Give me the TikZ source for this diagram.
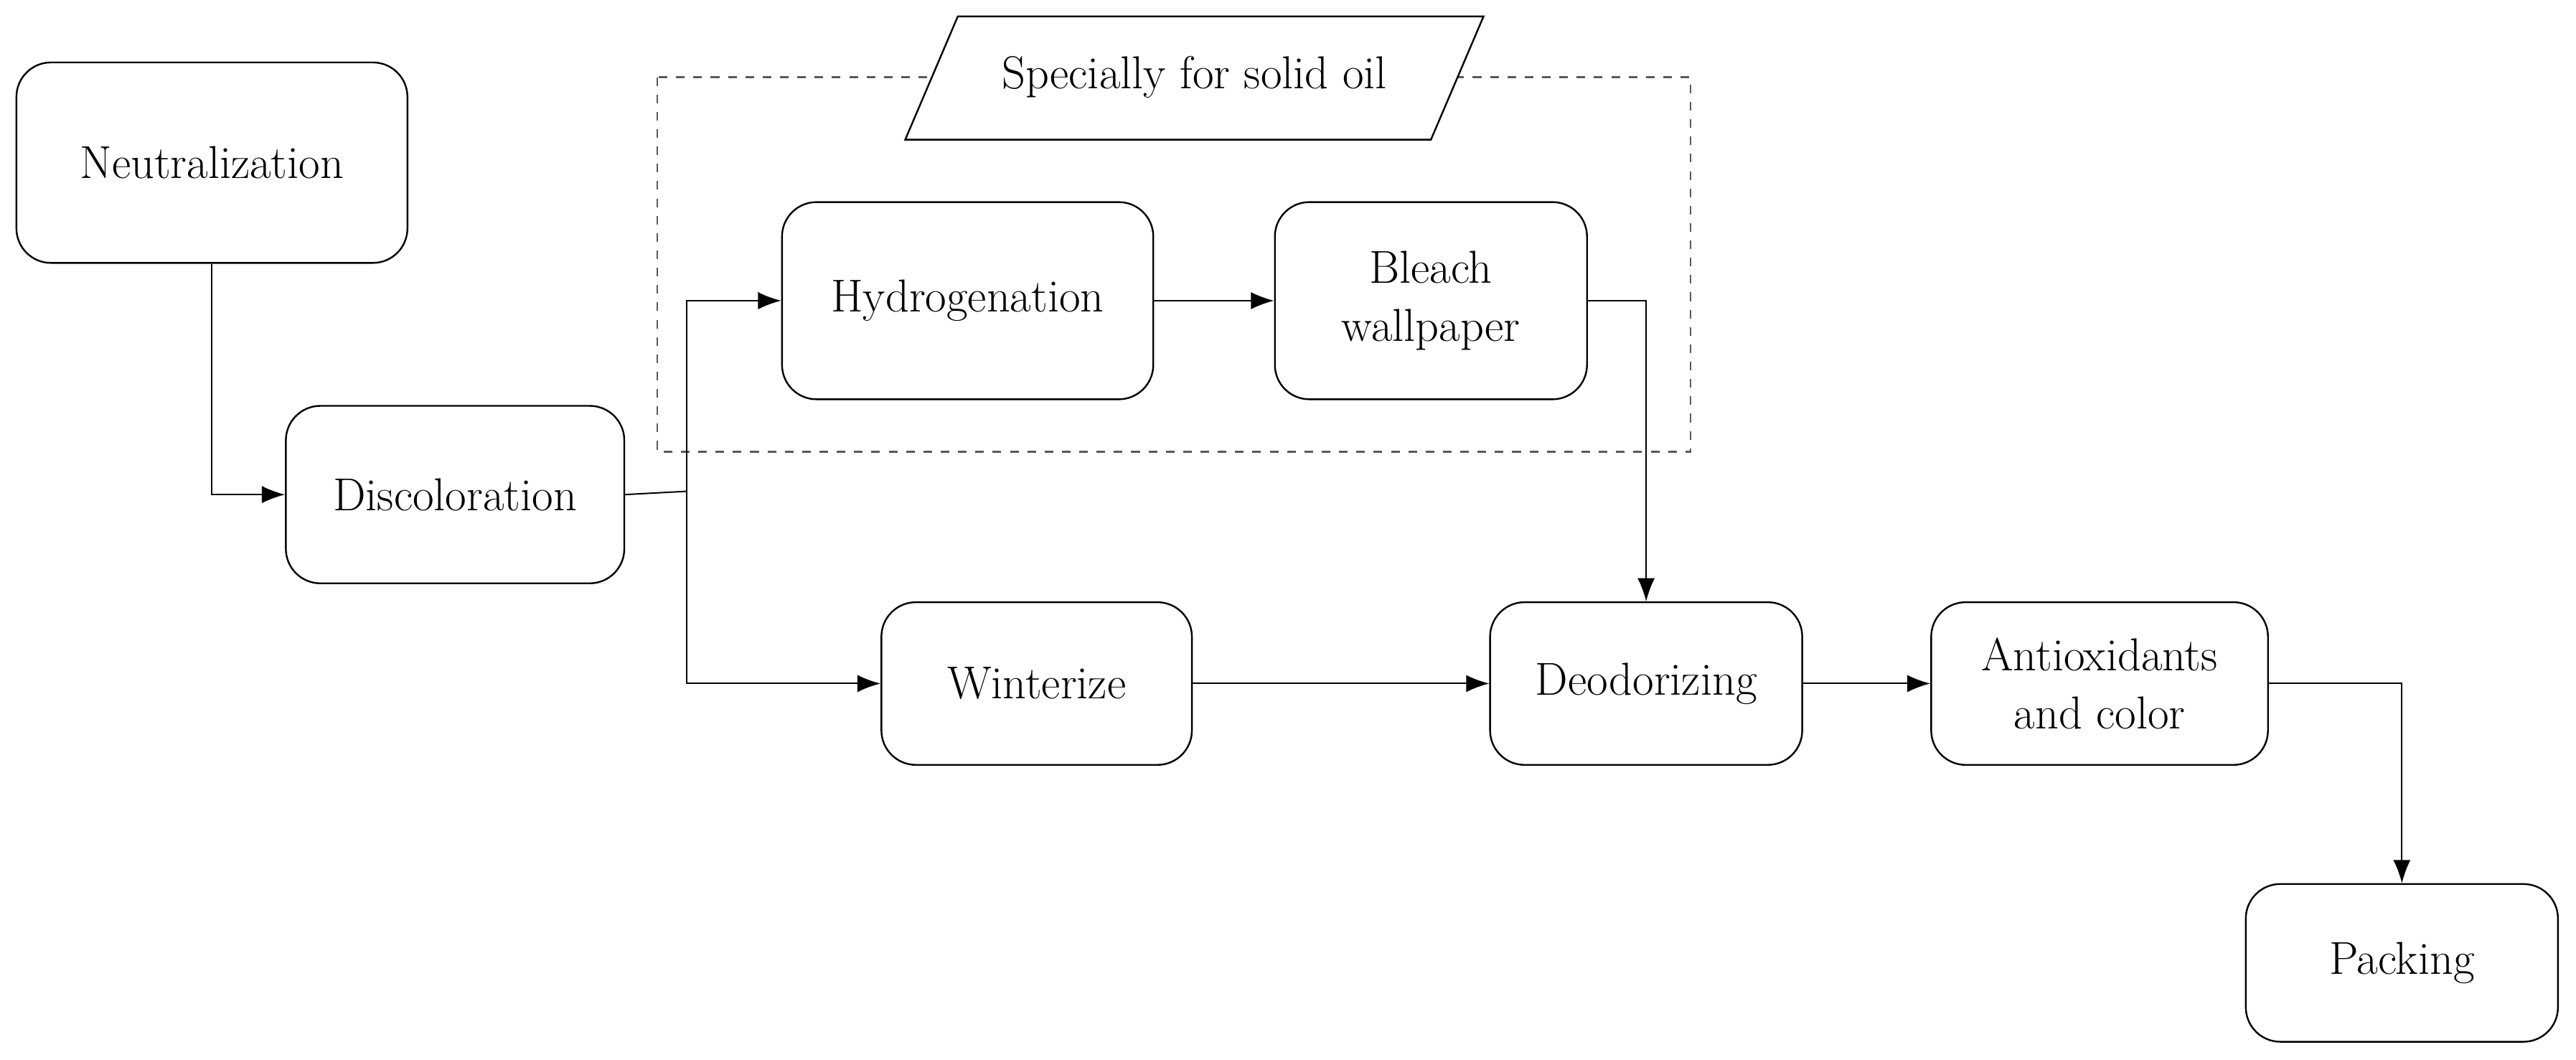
\documentclass[tikz,border=0pt]{standalone}
\usetikzlibrary{arrows.meta}
\begin{document}
\begin{tikzpicture}[x=0.02cm,y=-0.02cm,
  box/.style={draw,rounded corners=0.42cm,line width=0.6pt,align=center,inner sep=0pt,font=\fontsize{16}{20}\selectfont},
  arr/.style={-{Latex[length=8pt,width=6pt]},line width=0.5pt}]
\useasboundingbox (0,0) rectangle (1568,645);
\draw[dashed,gray!70!black,line width=0.6pt] (400,47) rectangle (1029,275);
\draw[fill=white,line width=0.6pt] (551,85) coordinate (p1) -- (583,10) -- (903,10) -- (871,85) -- cycle;
\node[font=\fontsize{16}{20}\selectfont] (sp) at (727,47) {Specially for solid oil};
\node[box,minimum width=238*0.02cm,minimum height=122*0.02cm] (neu) at (129,99) {Neutralization};
\node[box,minimum width=206*0.02cm,minimum height=108*0.02cm] (dis) at (277,301) {Discoloration};
\node[box,minimum width=226*0.02cm,minimum height=120*0.02cm] (hyd) at (589,183) {Hydrogenation};
\node[box,minimum width=190*0.02cm,minimum height=120*0.02cm] (ble) at (871,183) {Bleach\\wallpaper};
\node[box,minimum width=189*0.02cm,minimum height=99*0.02cm] (win) at (631,416) {Winterize};
\node[box,minimum width=190*0.02cm,minimum height=99*0.02cm] (deo) at (1002,416) {Deodorizing};
\node[box,minimum width=205*0.02cm,minimum height=99*0.02cm] (ant) at (1278,416) {Antioxidants\\and color};
\node[box,minimum width=190*0.02cm,minimum height=96*0.02cm] (pac) at (1462,586) {Packing};
\coordinate (j) at (418,299);
\draw[arr] (neu.south) |- (dis.west);
\draw[line width=0.5pt] (dis.east) -- (j);
\draw[arr] (j) |- (hyd.west);
\draw[arr] (j) |- (win.west);
\draw[arr] (hyd) -- (ble);
\draw[arr] (ble.east) -| (deo.north);
\draw[arr] (win) -- (deo);
\draw[arr] (deo) -- (ant);
\draw[arr] (ant.east) -| (pac.north);
\end{tikzpicture}
\end{document}
